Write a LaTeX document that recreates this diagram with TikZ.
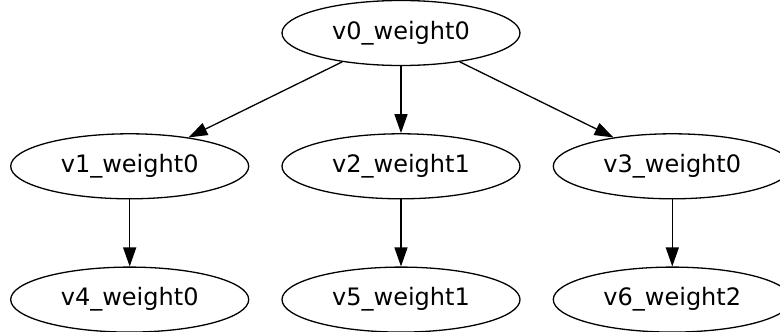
\documentclass[tikz,border=0pt]{standalone}
\usepackage{fontspec}
\setmainfont{DejaVu Sans}
\usetikzlibrary{shapes.geometric, arrows.meta, positioning}

\begin{document}
\begin{tikzpicture}[
    node distance=67pt and 32pt,
    vertex/.style={
        ellipse, draw=black, line width=1.3pt,
        minimum width=238pt, minimum height=65pt, inner sep=0pt,
        font=\fontsize{24}{28}\selectfont
    },
    arrow/.style={
        -{Triangle[length=19pt, width=13pt]}, line width=1.3pt, draw=black
    }
]
\useasboundingbox (-401pt,33pt) rectangle (379pt,-299pt);

% Vertices
\node[vertex] (v0) at (0, 0) {v0\_weight0};
\node[vertex, below=of v0] (v2) {v2\_weight1};
\node[vertex, left=of v2] (v1) {v1\_weight0};
\node[vertex, right=of v2] (v3) {v3\_weight0};
\node[vertex, below=of v1] (v4) {v4\_weight0};
\node[vertex, below=of v2] (v5) {v5\_weight1};
\node[vertex, below=of v3] (v6) {v6\_weight2};

% Edges
\draw[arrow] (v0) -- (v1);
\draw[arrow] (v0) -- (v2);
\draw[arrow] (v0) -- (v3);
\draw[arrow] (v1) -- (v4);
\draw[arrow] (v2) -- (v5);
\draw[arrow] (v3) -- (v6);

\end{tikzpicture}
\end{document}
